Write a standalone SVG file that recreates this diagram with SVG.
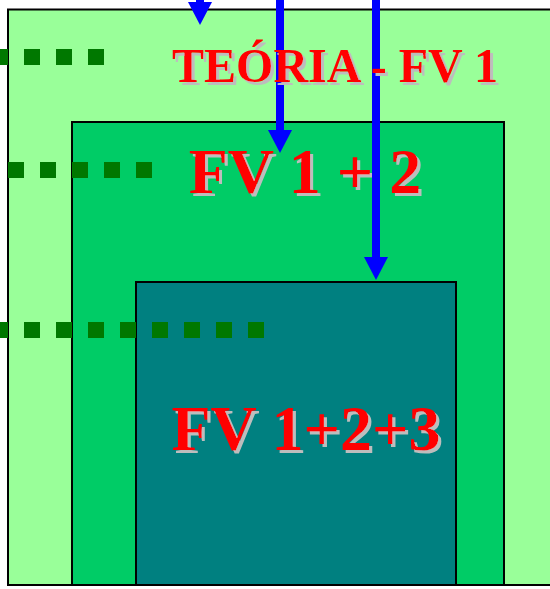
<svg xmlns="http://www.w3.org/2000/svg" width="550" height="589" viewBox="0 0 550 589">
<defs>
<style>
.box{stroke:#000;stroke-width:2}
.dots{stroke:#007800;stroke-width:16;stroke-dasharray:16 16;fill:none}
.arr{stroke:#0000FF;stroke-width:8;fill:none}
.t{font-family:"Liberation Serif","Times New Roman",serif;font-weight:bold;text-anchor:middle;fill:#FF0000;filter:url(#sh)}
</style>
<filter id="sh" x="-10%" y="-30%" width="120%" height="160%">
<feFlood flood-color="#BDBDBD" result="c"/>
<feComposite in="c" in2="SourceAlpha" operator="in" result="s"/>
<feOffset in="s" dx="3" dy="3" result="o"/>
<feMerge><feMergeNode in="o"/><feMergeNode in="SourceGraphic"/></feMerge>
</filter>
<marker id="ah" viewBox="0 0 23 24" refX="3" refY="12" markerWidth="23" markerHeight="24" markerUnits="userSpaceOnUse" orient="auto">
<path d="M0,0 L23,12 L0,24 Z" fill="#0000FF"/>
</marker>
</defs>
<rect width="550" height="589" fill="#FFFFFF"/>
<g id="layer1">
<rect class="box" x="8" y="9.5" width="560" height="575.5" fill="#99FF99"/>
</g>
<g id="layer2">
<rect class="box" x="72" y="122" width="432" height="463" fill="#00CC66"/>
</g>
<g id="layer3">
<rect class="box" x="136" y="282" width="320" height="303" fill="#008080"/>
</g>
<g id="label2">
<text class="t" x="305" y="193" font-size="64">FV 1 + 2</text>
</g>
<g id="label3">
<text class="t" x="306" y="450" font-size="64">FV 1+2+3</text>
</g>
<g id="connectors">
<line class="dots" x1="-8" y1="57" x2="104" y2="57"/>
<line class="dots" x1="8" y1="170" x2="152" y2="170"/>
<line class="dots" x1="-8" y1="330" x2="264" y2="330"/>
<line class="arr" x1="200" y1="-30" x2="200" y2="5" marker-end="url(#ah)"/>
<line class="arr" x1="280" y1="-5" x2="280" y2="133" marker-end="url(#ah)"/>
<line class="arr" x1="376" y1="-5" x2="376" y2="260" marker-end="url(#ah)"/>
</g>
<g id="label1">
<text class="t" x="335" y="82" font-size="48">TEÓRIA - FV 1</text>
</g>
</svg>
